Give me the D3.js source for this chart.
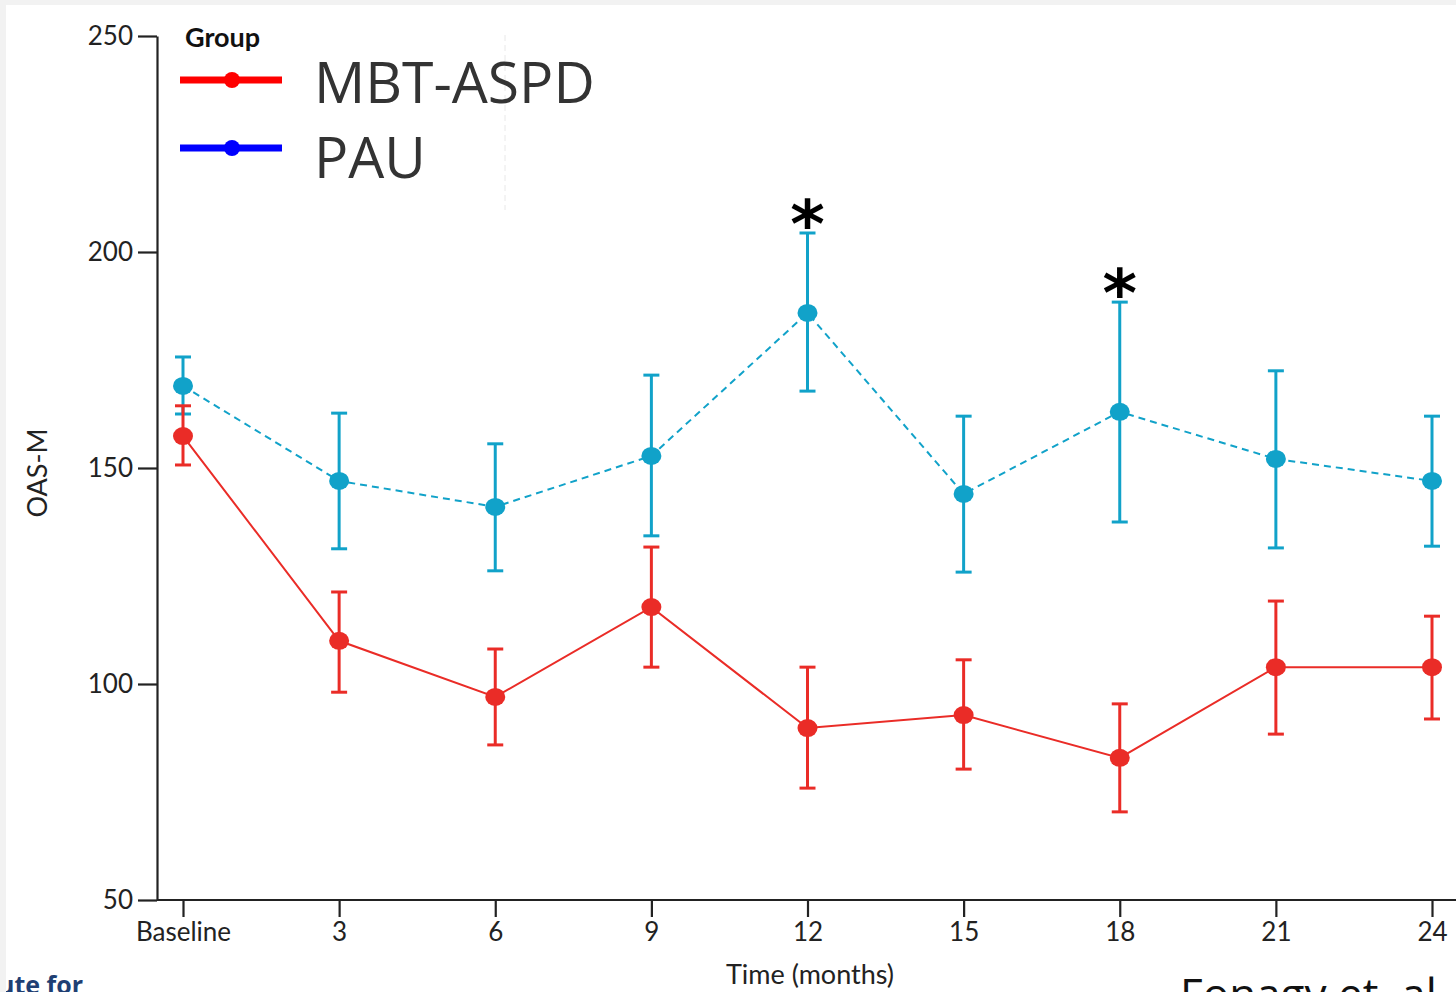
<!DOCTYPE html>
<html>
<head>
<meta charset="utf-8">
<script src="https://cdn.jsdelivr.net/npm/d3@7"></script>
<style>
  html, body { margin: 0; padding: 0; background: #f2f2f2; overflow: hidden; }
  #chart { position: absolute; left: 6px; top: 5px; }
</style>
</head>
<body>
<div id="chart"></div>
<script>
// time points (x axis categories)
const timeLabels = ["Baseline", "3", "6", "9", "12", "15", "18", "21", "24"];
const yTicks = [50, 100, 150, 200, 250];

// MBT-ASPD group: mean and error bar ends
const mbtMean = [157.4, 110, 97, 117.8, 89.8, 92.8, 82.9, 103.9, 103.9];
const mbtHigh = [164.4, 121.3, 108.1, 131.7, 103.9, 105.6, 95.4, 119.2, 115.7];
const mbtLow  = [150.7, 98.1, 85.9, 103.9, 75.9, 80.3, 70.4, 88.4, 91.9];

// PAU group
const pauMean = [169, 147, 141, 152.8, 185.9, 144, 163, 152.1, 147];
const pauHigh = [175.7, 162.7, 155.6, 171.5, 204.4, 162, 188.4, 172.5, 162];
const pauLow  = [162.5, 131.3, 126.2, 134.3, 167.8, 125.9, 137.5, 131.5, 131.9];

// significant time points
const starred = ["12", "18"];

document.addEventListener('DOMContentLoaded', function () {
    const W = 1450, H = 987;
    const ox = 6, oy = 5; // offset of the white panel

    const svg = d3.select("#chart")
        .append("svg")
        .attr("width", W)
        .attr("height", H)
        .style("background", "#fff")
        .style("font-family", "Lato, 'Open Sans', sans-serif");

    // scales (in page coords, then shifted by the panel offset)
    const x = d3.scalePoint()
        .domain(timeLabels)
        .range([183 - ox, 1432 - ox]);
    const y = d3.scaleLinear()
        .domain([50, 250])
        .range([900 - oy, 36 - oy]);

    const axisColor = "#222";

    // faint dashed guide behind legend
    svg.append("line")
        .attr("x1", 505 - ox).attr("x2", 505 - ox)
        .attr("y1", 35 - oy).attr("y2", 210 - oy)
        .attr("stroke", "#e8e8e8")
        .attr("stroke-dasharray", "6,4");

    // Y axis
    const yAxis = svg.append("g")
        .attr("transform", `translate(${157 - ox},0)`)
        .call(d3.axisLeft(y).tickValues(yTicks).tickSize(19).tickPadding(5).tickSizeOuter(0));
    yAxis.select(".domain").attr("stroke", axisColor).attr("stroke-width", 2.2);
    yAxis.selectAll(".tick line").attr("stroke", axisColor).attr("stroke-width", 2.2);
    yAxis.selectAll(".tick text")
        .attr("fill", "#222")
        .style("font-size", "26px")
        .style("font-family", "Lato, 'Open Sans', sans-serif");

    // X axis
    const xAxis = svg.append("g")
        .attr("transform", `translate(0,${900 - oy})`)
        .call(d3.axisBottom(x).tickSize(17).tickPadding(6).tickSizeOuter(0));
    xAxis.select(".domain")
        .attr("d", `M${157 - ox},0H${W}`)
        .attr("stroke", axisColor).attr("stroke-width", 2.2);
    xAxis.selectAll(".tick line").attr("stroke", axisColor).attr("stroke-width", 2.2);
    xAxis.selectAll(".tick text")
        .attr("fill", "#222")
        .style("font-size", "26px")
        .style("font-family", "Lato, 'Open Sans', sans-serif");

    // axis titles
    svg.append("text")
        .attr("x", 810 - ox).attr("y", 984 - oy)
        .attr("text-anchor", "middle")
        .attr("fill", "#222")
        .style("font-size", "27px")
        .text("Time (months)");
    svg.append("text")
        .attr("transform", `translate(${47 - ox},${473 - oy}) rotate(-90)`)
        .attr("text-anchor", "middle")
        .attr("fill", "#222")
        .style("font-size", "27px")
        .text("OAS-M");

    // series
    const series = [
        { name: "PAU", mean: pauMean, hi: pauHigh, lo: pauLow, color: "#11a2c9", dash: "7,5" },
        { name: "MBT-ASPD", mean: mbtMean, hi: mbtHigh, lo: mbtLow, color: "#ea2c27", dash: null }
    ];

    const line = d3.line()
        .x((d, i) => x(timeLabels[i]))
        .y(d => y(d));

    series.forEach(s => {
        const g = svg.append("g");
        g.append("path")
            .datum(s.mean)
            .attr("d", line)
            .attr("fill", "none")
            .attr("stroke", s.color)
            .attr("stroke-width", 2)
            .attr("stroke-dasharray", s.dash);

        const bars = g.selectAll("g.err")
            .data(timeLabels)
            .join("g")
            .attr("class", "err");
        bars.append("line")
            .attr("x1", d => x(d)).attr("x2", d => x(d))
            .attr("y1", (d, i) => y(s.hi[i])).attr("y2", (d, i) => y(s.lo[i]))
            .attr("stroke", s.color).attr("stroke-width", 3);
        bars.append("line")
            .attr("x1", d => x(d) - 8).attr("x2", d => x(d) + 8)
            .attr("y1", (d, i) => y(s.hi[i])).attr("y2", (d, i) => y(s.hi[i]))
            .attr("stroke", s.color).attr("stroke-width", 3);
        bars.append("line")
            .attr("x1", d => x(d) - 8).attr("x2", d => x(d) + 8)
            .attr("y1", (d, i) => y(s.lo[i])).attr("y2", (d, i) => y(s.lo[i]))
            .attr("stroke", s.color).attr("stroke-width", 3);
        bars.append("ellipse")
            .attr("cx", d => x(d))
            .attr("cy", (d, i) => y(s.mean[i]))
            .attr("rx", 10).attr("ry", 9)
            .attr("fill", s.color);
    });

    // asterisks above PAU error bars
    svg.selectAll("text.star")
        .data(starred)
        .join("text")
        .attr("class", "star")
        .attr("x", d => x(d))
        .attr("y", d => y(pauHigh[timeLabels.indexOf(d)]) + 14)
        .attr("text-anchor", "middle")
        .attr("fill", "#000")
        .style("font-size", "66px")
        .style("font-weight", "bold")
        .style("font-family", "'DejaVu Sans', sans-serif")
        .text("*");

    // legend
    const legend = svg.append("g");
    legend.append("text")
        .attr("x", 185 - ox).attr("y", 47 - oy)
        .attr("fill", "#111")
        .style("font-size", "27px")
        .style("font-weight", "bold")
        .text("Group");
    const legendItems = [
        { label: "MBT-ASPD", color: "#ff0000", y: 80 },
        { label: "PAU", color: "#0000ff", y: 148 }
    ];
    legendItems.forEach(l => {
        legend.append("line")
            .attr("x1", 180 - ox).attr("x2", 282 - ox)
            .attr("y1", l.y - oy).attr("y2", l.y - oy)
            .attr("stroke", l.color).attr("stroke-width", 7);
        legend.append("circle")
            .attr("cx", 232 - ox).attr("cy", l.y - oy)
            .attr("r", 8).attr("fill", l.color);
        legend.append("text")
            .attr("x", 314 - ox).attr("y", l.y + 23 + (l.y > 100 ? 7 : 0) - oy)
            .attr("fill", "#333")
            .style("font-size", "57px")
            .style("font-family", "'Open Sans', sans-serif")
            .text(l.label);
    });

    // clipped fragments at the bottom edge
    svg.append("text")
        .attr("x", -8).attr("y", 994 - oy)
        .attr("fill", "#1f3f73")
        .style("font-size", "25px")
        .style("font-weight", "bold")
        .style("font-family", "'Open Sans', sans-serif")
        .text("ute for");
    svg.append("text")
        .attr("x", 1180 - ox).attr("y", 1010 - oy)
        .attr("fill", "#111")
        .style("font-size", "44px")
        .style("font-family", "'Open Sans', sans-serif")
        .text("Fonagy et. al");
});
</script>
</body>
</html>
